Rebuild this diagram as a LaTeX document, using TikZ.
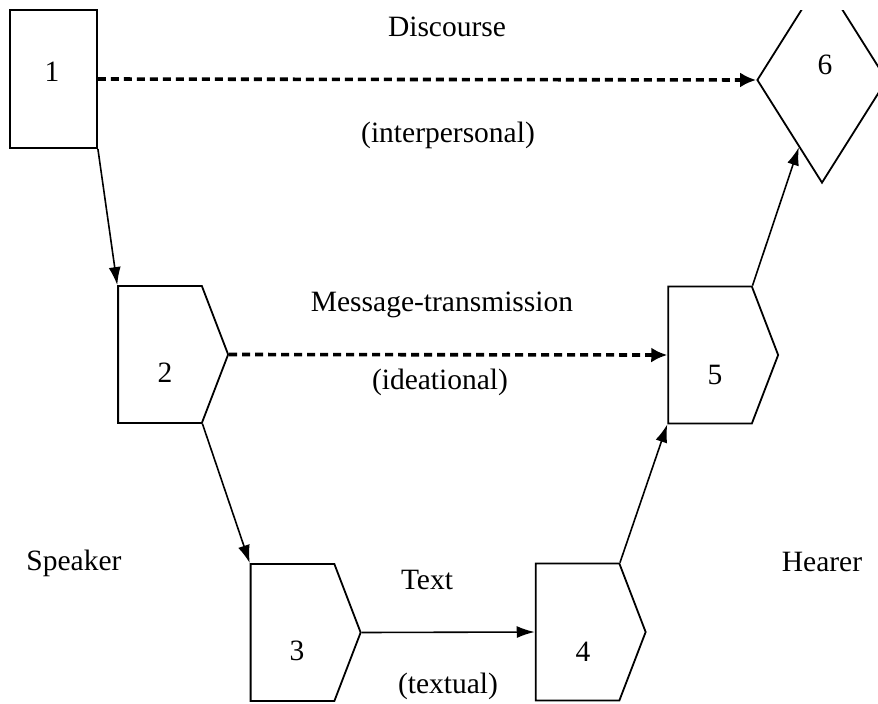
\documentclass[tikz,border=0pt]{standalone}
\usepackage{fontspec}
\setmainfont{Liberation Serif}
\usetikzlibrary{shapes.symbols,shapes.geometric,arrows.meta}

\tikzset{
  stage/.style={draw, line width=1.8pt, inner sep=0pt},
  pentbox/.style={stage, signal, signal to=east, signal pointer angle=138,
    minimum width=110pt, minimum height=137pt},
  flow/.style={line width=1.6pt, -{Latex[length=18pt,width=12pt]}},
  dashflow/.style={line width=3.6pt, dash pattern=on 8pt off 5pt,
    -{Latex[length=16pt,width=15pt]}},
}

\begin{document}
\begin{tikzpicture}[x=1pt, y=-1pt, font=\fontsize{29.5}{34}\selectfont]
    \useasboundingbox (0,0) rectangle (878,704);

    % speaker side
    \node[stage, minimum width=87pt, minimum height=138pt,
      label={[xshift=-1.5pt,yshift=7pt]center:1}] (b1) at (53.5,79) {};
    \node[pentbox, label={[xshift=5pt,yshift=-18pt]center:2}] (b2) at (160,354.5) {};
    \node[pentbox, label={[xshift=4.5pt,yshift=-18pt]center:3}] (b3) at (292.5,632.5) {};

    % hearer side
    \node[pentbox, label={[xshift=5.5pt,yshift=-20pt]center:4}] (b4) at (577.5,632) {};
    \node[pentbox, label={[xshift=5pt,yshift=-20pt]center:5}] (b5) at (710,355) {};
    \begin{scope}
        \clip (0,10) rectangle (878,704);
        \node[stage, diamond, minimum width=130pt, minimum height=206pt,
          label={[xshift=3pt,yshift=15pt]center:6}] (d6) at (822,80) {};
    \end{scope}

    % connectors
    \draw[dashflow] (b1.east) -- (d6.west);
    \draw[dashflow] (b2.east) -- (b5.west);
    \draw[flow] (b3.east) -- (b4.west);
    \draw[flow] (b1.south east) -- (b2.north west);
    \draw[flow] (b2.south east) -- (b3.north west);
    \draw[flow] (b4.north east) -- (b5.south west);
    \draw[flow] (b5.north east) -- (d6.-109);

    % labels
    \node (discourse) at (447,27) {Discourse};
    \node (interp) at (448,135) {(interpersonal)};
    \node (message) at (442,305) {Message-transmission};
    \node (ideat) at (440,382) {(ideational)};
    \node (text) at (427,580) {Text};
    \node (textual) at (448,686) {(textual)};
    \node (speaker) at (74,563) {Speaker};
    \node (hearer) at (822,562) {Hearer};
\end{tikzpicture}
\end{document}
